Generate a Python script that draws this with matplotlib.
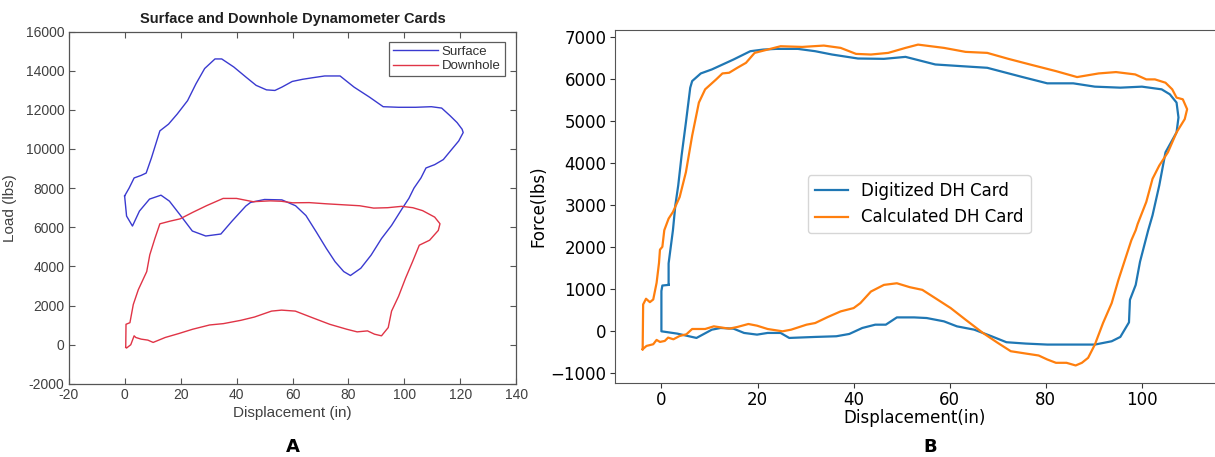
import numpy as np
import matplotlib.pyplot as plt

# Surface and downhole cards (displacement in, load lbs)
surface_x = [0, 1.6, 3.4, 5.9, 7.7, 9.6, 12.6, 15.7, 18.8, 22.5, 25.5, 28.6, 32.3, 34.7, 39,
             43.3, 47, 50.7, 53.7, 56.2, 59.9, 63.6, 67.2, 71.5, 77, 82, 87.5, 92.4, 97.9, 104,
             109.6, 113.3, 116.3, 118.8, 120.6, 121, 119.4, 116.9, 113.9, 110.8, 107.7, 105.9,
             103.4, 101.6, 99.1, 95.4, 91.8, 88.1, 84.4, 80.7, 78.3, 75.2, 72.1, 68.5, 64.8,
             61.1, 56.2, 50, 45, 43.3, 38.4, 34.4, 29, 24.2, 19.6, 16, 13, 8.9, 5.3, 2.8, 0.7, 0]
surface_y = [7600, 8000, 8520, 8650, 8770, 9550, 10925, 11270, 11785, 12470, 13330, 14110,
             14600, 14600, 14190, 13680, 13250, 13020, 12990, 13160, 13450, 13560, 13640,
             13730, 13730, 13160, 12650, 12160, 12130, 12130, 12160, 12090, 11700, 11350,
             11010, 10840, 10410, 9980, 9460, 9200, 9030, 8520, 8000, 7480, 6936, 6096, 5423,
             4581, 3907, 3536, 3738, 4244, 4917, 5760, 6600, 7100, 7400, 7420, 7270, 7083,
             6318, 5656, 5554, 5809, 6675, 7337, 7640, 7440, 6828, 6063, 6573, 7600]

downhole_x = [0.4, 0.5, 1.9, 3.1, 4.9, 7.9, 9.0, 10.8, 12.6, 16.2, 19.8, 24.4, 29.3, 35.2, 40,
              45.9, 52, 56, 60, 66, 72, 78, 84, 89, 94, 99, 103, 106.5, 110.8, 112.7, 112.1,
              109, 105.3, 102.9, 100.4, 97.9, 95.4, 94.2, 91.8, 89.3, 86.8, 83.1, 79.4, 73.3,
              67.1, 61, 56.1, 52.5, 46.4, 41.5, 35.3, 30.4, 24.3, 19.4, 14.5, 10.2, 8.3, 5.9,
              4.0, 3.4, 2.2, 0.7, 0.4]
downhole_y = [-135, 1045, 1126, 2055, 2813, 3737, 4595, 5419, 6177, 6312, 6430, 6767, 7105,
              7474, 7474, 7307, 7350, 7330, 7250, 7260, 7200, 7150, 7100, 6980, 7000, 7070,
              7000, 6850, 6520, 6180, 5840, 5340, 5085, 4244, 3402, 2475, 1718, 876, 455, 539,
              707, 657, 791, 1044, 1381, 1718, 1768, 1718, 1415, 1246, 1078, 1010, 791, 573,
              370, 118, 236, 286, 370, 455, 0, -168, -135]

# Digitized vs calculated downhole card
digitized_x = [1.5, 0.2, 0, 0, 3.3, 7.3, 10.5, 12.3, 15, 17.2, 19.9, 22.1, 24.8, 26.6, 32,
               36.4, 39.1, 41.8, 44.5, 46.7, 49, 52.6, 55.2, 58.8, 61.5, 65.1, 68.7, 71.8, 75.8,
               80.3, 85.7, 90.2, 93.7, 95.5, 97.3, 97.5, 98.7, 99.6, 101.3, 102.2, 103.6, 104.9,
               107.2, 107.6, 107.2, 105.8, 104.1, 100, 95.5, 90.2, 85.7, 80.3, 74.9, 67.8, 62.4,
               57, 50.8, 46.3, 40.9, 35.5, 32, 28.4, 23.9, 21.2, 18.5, 15, 10.5, 8.2, 6.4, 6,
               5.1, 4.2, 3.5, 2.9, 2.4, 1.5, 1.5]
digitized_y = [1105, 1090, 960, 0, -55, -158, 39, 79, 63, -39, -79, -39, -39, -158, -134,
               -118, -63, 79, 158, 158, 331, 331, 316, 237, 118, 39, -118, -260, -292, -316,
               -316, -316, -237, -134, 213, 750, 1105, 1658, 2407, 2762, 3473, 4262, 4736, 5091,
               5446, 5643, 5761, 5825, 5801, 5825, 5904, 5904, 6061, 6274, 6313, 6353, 6534,
               6487, 6495, 6590, 6669, 6724, 6724, 6708, 6669, 6471, 6235, 6140, 5958, 5801,
               4973, 4184, 3473, 3000, 2407, 1618, 1105]

calculated_x = [-3.9, -3.8, -3.2, -2.4, -1.7, -1.0, -0.5, -0.3, 0.2, 0.6, 1.5, 2.4, 3.8, 5.1,
                6.4, 7.8, 9.1, 11.4, 12.7, 14.1, 15.8, 17.6, 19.4, 22.1, 24.8, 29.3, 33.8, 37.3,
                40.5, 43.6, 47.2, 50.8, 53.4, 58.8, 63.3, 67.8, 72.2, 76.7, 82.1, 86.5, 91, 94.6,
                98.6, 100.9, 102.7, 104.9, 106.3, 107.2, 108.5, 109.4, 108.9, 107.2, 105.4,
                103.6, 102.2, 100.9, 99.1, 98.7, 97.8, 96.9, 95.1, 93.7, 91.9, 90.2, 88.8, 87.5,
                86.2, 84.3, 82.1, 80.3, 78.5, 75.8, 72.7, 70, 66.9, 63.3, 60.2, 57, 54.3, 51.7,
                49, 46.3, 43.6, 41.4, 40, 37.3, 34.6, 32, 30.2, 27, 25.2, 22.1, 19.9, 18.1, 15.8,
                14.1, 10.9, 9.1, 6.4, 5.2, 3.8, 2.5, 1.4, 0.7, -0.3, -1.0, -1.7, -3.1, -3.9]
calculated_y = [-427, 640, 775, 694, 758, 1154, 1628, 1943, 2012, 2407, 2683, 2841, 3197, 3789,
                4658, 5446, 5761, 5998, 6140, 6156, 6274, 6392, 6629, 6708, 6787, 6771, 6803,
                6748, 6605, 6590, 6629, 6748, 6826, 6748, 6653, 6629, 6487, 6353, 6195, 6053,
                6140, 6172, 6116, 5998, 5998, 5919, 5761, 5564, 5524, 5288, 5052, 4736, 4262,
                3946, 3631, 3080, 2554, 2407, 2170, 1855, 1223, 671, 197, -316, -631, -750, -813,
                -750, -750, -671, -576, -529, -474, -276, -39, 276, 553, 789, 987, 1050, 1144,
                1105, 947, 671, 553, 474, 339, 197, 158, 39, 0, 55, 134, 174, 103, 63, 118, 55,
                55, -71, -111, -190, -150, -229, -253, -205, -308, -348, -427]

left_xticks = list(range(-20, 141, 20))
left_yticks = list(range(-2000, 16001, 2000))

fig = plt.figure(figsize=(12.15, 4.57), dpi=100)

# ---- A: MATLAB-style surface / downhole cards ----
mfont = 'Liberation Sans'
axA = fig.add_axes([0.0565, 0.160, 0.3685, 0.771])
axA.plot(surface_x, surface_y, color='#3a3ad0', lw=1.0, label='Surface')
axA.plot(downhole_x, downhole_y, color='#e03446', lw=1.0, label='Downhole')
axA.set_xlim(-20, 140)
axA.set_ylim(-2000, 16000)
axA.set_xticks(left_xticks)
axA.set_xticklabels([str(v) for v in left_xticks], fontfamily=mfont, fontsize=10, color='#404040')
axA.set_yticks(left_yticks)
axA.set_yticklabels([str(v) for v in left_yticks], fontfamily=mfont, fontsize=10, color='#404040')
axA.tick_params(direction='in', top=True, right=True, length=4, width=0.8, color='#555555', pad=3)
for s in axA.spines.values():
    s.set_color('#555555')
    s.set_linewidth(0.9)
axA.set_title('Surface and Downhole Dynamometer Cards', fontfamily=mfont, fontsize=10.5,
              fontweight='bold', color='#202020', pad=6)
axA.set_xlabel('Displacement (in)', fontfamily=mfont, fontsize=11, color='#404040', labelpad=3)
axA.set_ylabel('Load (lbs)', fontfamily=mfont, fontsize=11, color='#404040', labelpad=6)
legA = axA.legend(loc='upper right', bbox_to_anchor=(0.974, 0.971), borderaxespad=0,
                  fancybox=False, handlelength=3.4, prop={'family': mfont, 'size': 9.5},
                  borderpad=0.3, labelspacing=0.15, handletextpad=0.3)
legA.get_frame().set_edgecolor('#333333')
legA.get_frame().set_linewidth(0.9)
for t in legA.get_texts():
    t.set_color('#303030')

# ---- B: digitized vs calculated downhole card ----
axB = fig.add_axes([0.506, 0.162, 0.494, 0.772])
axB.plot(digitized_x, digitized_y, color='tab:blue', lw=1.6, label='Digitized DH Card')
axB.plot(calculated_x, calculated_y, color='tab:orange', lw=1.6, label='Calculated DH Card')
axB.set_xlim(-9.7, 115.2)
axB.set_ylim(-1230, 7170)
axB.set_xticks([0, 20, 40, 60, 80, 100])
axB.set_yticks(range(-1000, 7001, 1000))
axB.tick_params(labelsize=12, color='#333333', pad=2.5)
axB.spines['right'].set_visible(False)
for s in ['left', 'bottom', 'top']:
    axB.spines[s].set_color('#555555')
axB.set_xlabel('Displacement(in)', fontsize=12, labelpad=0)
axB.set_ylabel('Force(lbs)', fontsize=12, labelpad=2)
axB.legend(loc='lower left', bbox_to_anchor=(0.322, 0.425), borderaxespad=0, fontsize=12)

fig.text(293 / 1215, 1 - 447 / 457, 'A', ha='center', va='center', fontsize=13,
         fontweight='bold', fontfamily='DejaVu Sans')
fig.text(930 / 1215, 1 - 447 / 457, 'B', ha='center', va='center', fontsize=13,
         fontweight='bold', fontfamily='DejaVu Sans')

fig.savefig('out.png', dpi=100)
